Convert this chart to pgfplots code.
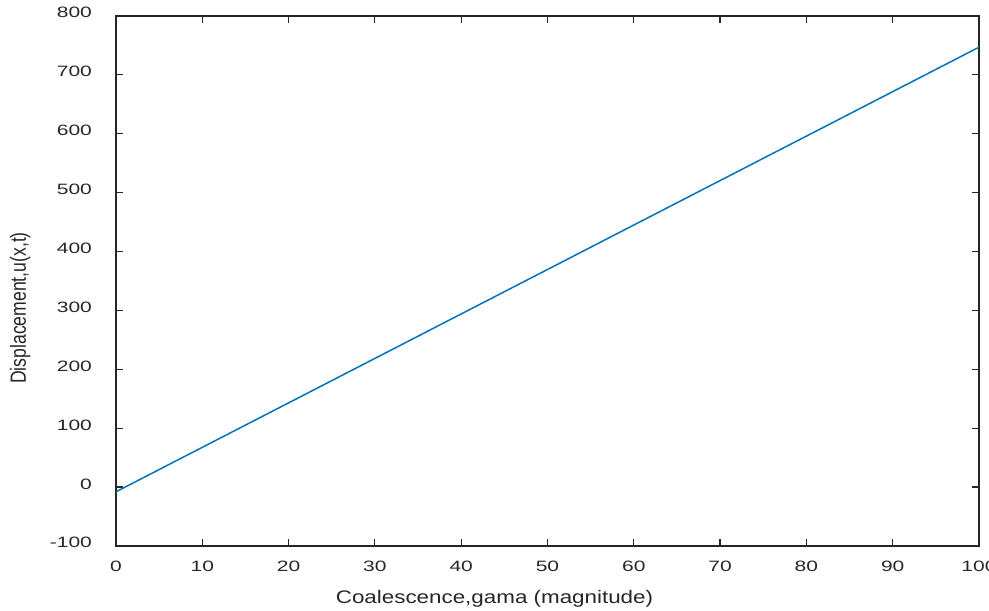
\documentclass[border=0pt]{standalone}
\usepackage{fontspec}
\setmainfont{Liberation Sans}
\newfontfamily\widefont[FakeStretch=1.4]{Liberation Sans}
\newfontfamily\labfont[FakeStretch=1.23]{Liberation Sans}
\newfontfamily\narrowfont[FakeStretch=0.8]{Liberation Sans}
\usepackage{pgfplots}
\pgfplotsset{compat=1.18}
\definecolor{mblue}{rgb}{0,0.447,0.741}
\definecolor{axgray}{rgb}{0.15,0.15,0.15}
\begin{document}
\begin{tikzpicture}
\begin{axis}[
  scale only axis,
  width=431.5pt, height=265pt,
  xmin=0, xmax=100, ymin=-100, ymax=800,
  xtick={0,10,...,100}, ytick={-100,0,...,800},
  tick align=inside,
  major tick length=3.5pt,
  axis line style={axgray, line width=0.6pt},
  tick style={axgray, line width=0.6pt},
  every tick label/.append style={font=\widefont\fontsize{7.5}{9}\selectfont, text=axgray},
  /pgf/number format/assume math mode=true,
  yticklabel style={xshift=-8.5pt, yshift=1.6pt},
  xticklabel style={yshift=-4pt},
  xlabel={Coalescence,gama (magnitude)},
  ylabel={Displacement,u(x,t)},
  every axis x label/.style={at={(rel axis cs:0.4386,0)}, anchor=center, yshift=-26.5pt, font=\labfont\fontsize{9.1}{10}\selectfont, text=axgray},
  every axis y label/.style={at={(rel axis cs:-0.111,0.449)}, anchor=center, rotate=90, font=\narrowfont\fontsize{11}{12}\selectfont, text=axgray},
  clip=true,
]
\addplot[mblue, line width=0.75pt] coordinates {(0,-8) (100,747)};
\coordinate (bl) at (rel axis cs:-0.1344,-0.1208);
\coordinate (tr) at (rel axis cs:1.0116,1.0302);
\end{axis}
\pgfresetboundingbox
\path[use as bounding box] (bl) rectangle (tr);
\end{tikzpicture}
\end{document}
